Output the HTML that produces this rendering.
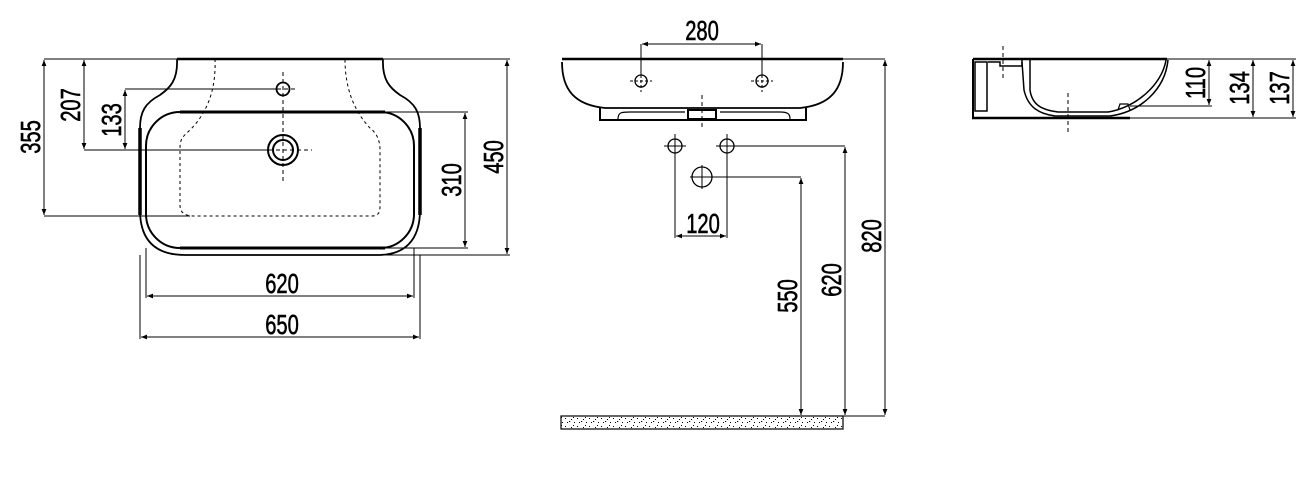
<!DOCTYPE html>
<html><head><style>
html,body{margin:0;padding:0;background:#fff;}
svg{display:block;}
.t{font-family:"Liberation Sans",sans-serif;font-size:28px;fill:#000;stroke:#000;stroke-width:0.6;}
</style></head><body>
<svg width="1309" height="480" viewBox="0 0 1309 480" xmlns="http://www.w3.org/2000/svg">
<defs>
<marker id="a" viewBox="0 0 10 10" refX="10" refY="5" markerWidth="10" markerHeight="6" orient="auto-start-reverse" markerUnits="userSpaceOnUse"><path d="M0,1 L10,5 L0,9 z" fill="#000"/></marker>
<pattern id="sp" width="12" height="8" patternUnits="userSpaceOnUse">
<rect x="1" y="2" width="1" height="1" fill="#000"/><rect x="5" y="5" width="1.2" height="1" fill="#000"/><rect x="9" y="1" width="1" height="1" fill="#000"/><rect x="3" y="6" width="1" height="1" fill="#000"/><rect x="7" y="3" width="1" height="1" fill="#000"/><rect x="10" y="6" width="1" height="1" fill="#000"/>
</pattern>
<pattern id="hatch" width="4" height="4" patternUnits="userSpaceOnUse"><path d="M0,4 L4,0" stroke="#000" stroke-width="0.8"/></pattern>
</defs>
<g fill="none" stroke="#000" stroke-width="1.3">
<!-- LEFT TOP VIEW -->
<path d="M177,59 L383,59" stroke-width="2.5"/>
<path d="M177,59 C178,80 170,88 160,95 C145,103 140,112 140,128 L140,210 C140,240 155,255 185,255 L378,255 C405,255 420,240 420,210 L420,128 C420,112 415,103 400,95 C390,88 382,80 383,59" stroke-width="1.8"/>
<path d="M140,128 L140,215" stroke-width="3.5"/><path d="M420,128 L420,215" stroke-width="3.5"/>
<rect x="146" y="112" width="268" height="136" rx="34" stroke-width="2"/>
<path d="M180,112 L385,112 M180,248 L385,248" stroke-width="3"/>
<path d="M215,59 C216,85 210,110 190,130 C181,138 180,140 180,150 L180,205 C180,213 185,216 195,216 L372,216 C380,216 380,210 380,205 L380,150 C380,138 375,132 370,128 C355,112 345,90 345,59" stroke-dasharray="3,3" stroke-width="1"/>
<circle cx="283" cy="89" r="6.5" stroke-width="1.8"/>
<circle cx="283" cy="150" r="15" stroke-width="2"/><circle cx="283" cy="150" r="10" stroke-width="2"/>
<path d="M283,72 L283,183 M270,89 L298,89 M262,150 L312,150" stroke-dasharray="4,3" stroke-width="1"/>
<!-- dims left -->
<path d="M44,59 L177,59 M44,216 L190,216 M84,150 L268,150 M125,89 L277,89 M383,59 L510,59 M380,255 L510,255 M385,112 L468,112 M385,248 L468,248" stroke-width="1"/>
<path d="M146,248 L146,298 M414,248 L414,298 M140,255 L140,339 M420,255 L420,339" stroke-width="1"/>
<path d="M44,60 L44,215" marker-start="url(#a)" marker-end="url(#a)" stroke-width="1"/>
<path d="M84,60 L84,149" marker-start="url(#a)" marker-end="url(#a)" stroke-width="1"/>
<path d="M125,90 L125,149" marker-start="url(#a)" marker-end="url(#a)" stroke-width="1"/>
<path d="M507,60 L507,254" marker-start="url(#a)" marker-end="url(#a)" stroke-width="1"/>
<path d="M465,113 L465,247" marker-start="url(#a)" marker-end="url(#a)" stroke-width="1"/>
<path d="M147,296 L413,296" marker-start="url(#a)" marker-end="url(#a)" stroke-width="1"/>
<path d="M141,337 L419,337" marker-start="url(#a)" marker-end="url(#a)" stroke-width="1"/>

<!-- MIDDLE FRONT VIEW -->
<path d="M562,59 L843,59" stroke-width="2.5"/>
<path d="M562,62 C562,90 575,105 605,108 L800,108 C830,105 843,90 843,62" stroke-width="1.8"/>
<path d="M600,108 L600,120 L806,120 L806,108" stroke-width="2"/>
<path d="M618,119 C618,112 622,112 630,112 L685,112 M720,112 L780,112 C788,112 790,114 790,119" stroke-width="1.2"/>
<rect x="688" y="110" width="28" height="9" stroke-width="2"/>
<path d="M702,95 L702,130" stroke-dasharray="4,3" stroke-width="1"/>
<circle cx="641" cy="81" r="6"/><circle cx="762" cy="81" r="6"/>
<path d="M630,81 L652,81 M641,70 L641,92 M751,81 L773,81 M762,70 L762,92" stroke-dasharray="3,2" stroke-width="1"/>
<circle cx="675" cy="146" r="7"/><circle cx="727" cy="146" r="7"/><circle cx="702" cy="177" r="10"/>
<path d="M664,146 L686,146 M675,134 L675,158 M716,146 L738,146 M727,134 L727,158 M690,177 L714,177 M702,165 L702,189" stroke-width="1"/>
<path d="M641,44 L641,76 M762,44 L762,76" stroke-width="1"/>
<path d="M642,44 L761,44" marker-start="url(#a)" marker-end="url(#a)" stroke-width="1"/>
<path d="M675,153 L675,238 M727,153 L727,238" stroke-width="1"/>
<path d="M676,236 L726,236" marker-start="url(#a)" marker-end="url(#a)" stroke-width="1"/>
<path d="M712,177 L801,177 M734,146 L845,146 M843,59 L885,59 M843,416 L885,416" stroke-width="1"/>
<path d="M801,178 L801,415" marker-start="url(#a)" marker-end="url(#a)" stroke-width="1"/>
<path d="M845,147 L845,415" marker-start="url(#a)" marker-end="url(#a)" stroke-width="1"/>
<path d="M885,60 L885,415" marker-start="url(#a)" marker-end="url(#a)" stroke-width="1"/>
<rect x="561" y="416" width="282" height="13" fill="url(#sp)" stroke-width="1.2"/>

<!-- RIGHT SIDE VIEW -->
<path d="M973,59 L1167,59" stroke-width="2.5"/>
<path d="M972,118 L1130,118" stroke-width="2.5"/>
<path d="M973,59 L973,118" stroke-width="2"/>
<rect x="975" y="62" width="12" height="49" stroke-width="1.5"/>
<path d="M988,62 L1000,62 L1000,66 L1022,66 L1022,60" stroke-width="1.5"/>
<path d="M1030,60 L1030,90 C1032,105 1042,110 1058,112 L1108,112 C1135,108 1162,85 1166,60" stroke-width="1.5"/>
<path d="M1022,62 L1024,90 C1028,108 1040,114 1055,116 L1110,116 C1140,112 1165,90 1168,60" stroke-width="1.5"/>
<path d="M1118,110 L1120,104 L1128,104 L1130,110" stroke-width="1.2"/>
<path d="M1003,46 L1003,78 M1068,93 L1068,132" stroke-dasharray="4,3" stroke-width="1"/>
<path d="M1167,59 L1296,59 M1130,106 L1212,106 M1130,118 L1296,118" stroke-width="1"/>
<path d="M1209,60 L1209,105" marker-start="url(#a)" marker-end="url(#a)" stroke-width="1"/>
<path d="M1253,60 L1253,117" marker-start="url(#a)" marker-end="url(#a)" stroke-width="1"/>
<path d="M1293,60 L1293,117" marker-start="url(#a)" marker-end="url(#a)" stroke-width="1"/>
</g>
<!-- labels -->
<g class="t">
<text transform="translate(40,137) rotate(-90) scale(0.72,1)" text-anchor="middle">355</text>
<text transform="translate(80,105) rotate(-90) scale(0.72,1)" text-anchor="middle">207</text>
<text transform="translate(121,120) rotate(-90) scale(0.72,1)" text-anchor="middle">133</text>
<text transform="translate(503,157) rotate(-90) scale(0.72,1)" text-anchor="middle">450</text>
<text transform="translate(461,180) rotate(-90) scale(0.72,1)" text-anchor="middle">310</text>
<text transform="translate(282,293) scale(0.72,1)" text-anchor="middle">620</text>
<text transform="translate(282,334) scale(0.72,1)" text-anchor="middle">650</text>
<text transform="translate(702,40) scale(0.72,1)" text-anchor="middle">280</text>
<text transform="translate(703,233) scale(0.72,1)" text-anchor="middle">120</text>
<text transform="translate(797,296) rotate(-90) scale(0.72,1)" text-anchor="middle">550</text>
<text transform="translate(841,280) rotate(-90) scale(0.72,1)" text-anchor="middle">620</text>
<text transform="translate(881,236) rotate(-90) scale(0.72,1)" text-anchor="middle">820</text>
<text transform="translate(1205,83) rotate(-90) scale(0.72,1)" text-anchor="middle">110</text>
<text transform="translate(1249,88) rotate(-90) scale(0.72,1)" text-anchor="middle">134</text>
<text transform="translate(1289,88) rotate(-90) scale(0.72,1)" text-anchor="middle">137</text>
</g>
</svg>
</body></html>
